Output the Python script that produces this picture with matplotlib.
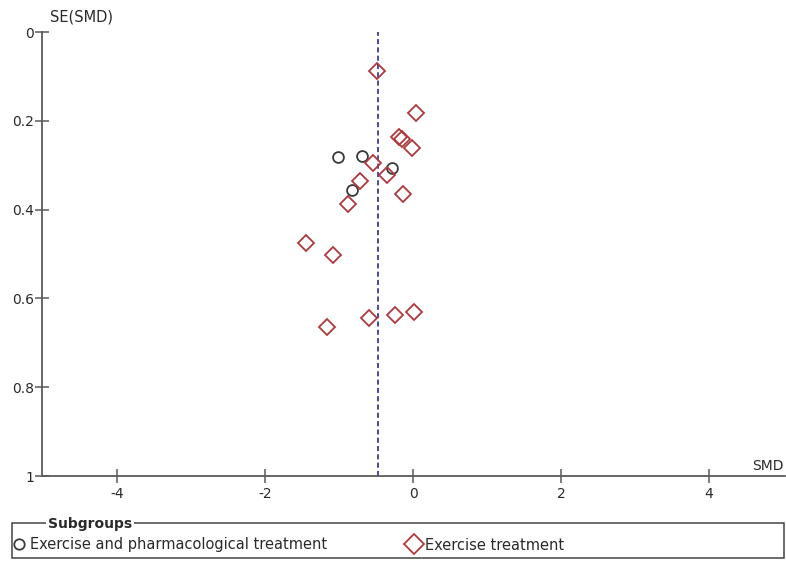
import matplotlib
matplotlib.use("Agg")
import matplotlib.pyplot as plt
from matplotlib.patches import Rectangle
from matplotlib.lines import Line2D

plt.rcParams['font.family'] = ['DejaVu Sans']

# Exercise and pharmacological treatment (circles)
pharm_smd = [-1.01, -0.69, -0.28, -0.83]
pharm_se = [0.282, 0.279, 0.307, 0.356]

# Exercise treatment (diamonds)
ex_smd = [-0.49, 0.04, -0.19, -0.15, -0.01, -0.54, -0.36, -0.72, -0.14, -0.88,
          -1.45, -1.08, -1.17, -0.60, -0.24, 0.01]
ex_se = [0.088, 0.182, 0.237, 0.242, 0.262, 0.294, 0.321, 0.335, 0.365, 0.387,
         0.476, 0.503, 0.665, 0.645, 0.637, 0.630]

pooled = -0.47
xticks = [-4, -2, 0, 2, 4]
yticks = [0, 0.2, 0.4, 0.6, 0.8, 1]
ytick_labels = ["0", "0.2", "0.4", "0.6", "0.8", "1"]
labels = ["Exercise and pharmacological treatment", "Exercise treatment"]

fig = plt.figure(figsize=(7.86, 5.62), dpi=100)
ax = fig.add_axes([42/786, 1-476/562, (785-42)/786, (476-32)/562])

red = "#b0383c"
dark = "#3a3a3a"
axis_col = "#5a5a5a"
txt = "#2a2a2a"

ax.axvline(pooled, color="#3a3aa8", linestyle=(0, (2.8, 1.8)), linewidth=1.3, zorder=1)
ax.plot(pharm_smd, pharm_se, linestyle='none', marker='o', markersize=7.8,
        markerfacecolor='none', markeredgecolor=dark, markeredgewidth=1.3, zorder=3)
ax.plot(ex_smd, ex_se, linestyle='none', marker='D', markersize=8.0,
        markerfacecolor='none', markeredgecolor=red, markeredgewidth=1.3, zorder=3)

ax.set_xlim(-5.02, 5.03)
ax.set_ylim(1, 0)
ax.set_xticks(xticks)
ax.set_xticklabels([str(t) for t in xticks])
ax.set_yticks(yticks)
ax.set_yticklabels(ytick_labels)
for s in ['top', 'right']:
    ax.spines[s].set_visible(False)
for s in ['left', 'bottom']:
    ax.spines[s].set_color(axis_col)
    ax.spines[s].set_linewidth(1.3)
ax.tick_params(direction='inout', length=9.5, width=1.1, color=axis_col,
               labelsize=10, labelcolor=txt)
ax.tick_params(axis='x', pad=3)
ax.tick_params(axis='y', pad=1)

fig.text(50/786, 1-17/562, "SE(SMD)", fontsize=10.5, color=txt, va='center', ha='left')
fig.text(784/786, 1-466/562, "SMD", fontsize=10, color=txt, va='center', ha='right')

# legend box
fig.patches.append(Rectangle((12/786, 1-558/562), (784-12)/786, (558-523)/562,
                             transform=fig.transFigure, fill=False,
                             edgecolor="#444444", linewidth=1.1))
fig.text(48/786, 1-524/562, "Subgroups", fontsize=10, fontweight='bold', color=txt,
         va='center', ha='left', bbox=dict(facecolor='white', edgecolor='none', pad=1.5))
h1 = Line2D([], [], linestyle='none', marker='o', markersize=7.5, markerfacecolor='none',
            markeredgecolor=dark, markeredgewidth=1.3)
h2 = Line2D([], [], linestyle='none', marker='D', markersize=10, markerfacecolor='none',
            markeredgecolor=red, markeredgewidth=1.3)
fig.legend([h1, h2], labels,
           loc='center left', bbox_to_anchor=(13/786, 1-545/562), ncol=2, frameon=False,
           fontsize=10.5, handlelength=0.8, handletextpad=0.4, columnspacing=5.5,
           borderpad=0, borderaxespad=0, labelcolor=txt)

fig.savefig("out.png", dpi=100)
